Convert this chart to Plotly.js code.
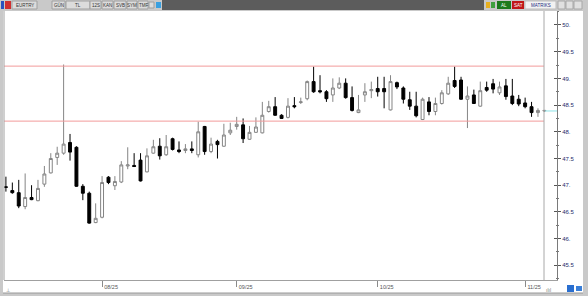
<!DOCTYPE html>
<html><head><meta charset="utf-8">
<script src="https://cdn.plot.ly/plotly-3.0.1.min.js"></script>
<style>html,body{margin:0;padding:0;background:#fff;}#chart{width:588px;height:296px;}</style>
</head><body><div id="chart"></div>
<script>
// ---- data (EURTRY daily) ----
const startDate = '2025-07-11';
const open  = [46.97,46.90,46.86,46.60,46.77,46.71,47.02,47.23,47.52,47.60,47.80,47.71,46.98,46.85,46.30,46.40,47.15,46.99,47.06,47.36,47.37,47.47,47.25,47.60,47.73,47.57,47.87,47.66,47.65,47.68,47.57,48.10,47.63,47.82,47.73,47.98,48.10,48.13,47.86,47.99,47.98,48.38,48.47,48.31,48.27,48.49,48.55,48.62,48.94,48.77,48.75,48.69,48.82,48.91,48.64,48.36,48.69,48.77,48.81,48.81,48.41,48.92,48.82,48.60,48.48,48.23,48.56,48.38,48.53,48.71,48.96,48.97,48.61,48.69,48.48,48.83,48.90,48.73,48.86,48.67,48.61,48.54,48.47,48.36,48.39];
const high  = [47.16,47.05,47.10,47.22,47.00,47.10,47.36,47.60,47.72,49.26,47.96,47.73,47.02,46.88,46.66,47.17,47.17,47.17,47.45,47.71,47.60,47.60,47.69,47.85,47.88,47.94,47.89,47.82,47.77,47.82,48.19,48.11,47.89,47.85,48.15,48.17,48.28,48.25,48.11,48.27,48.56,48.58,48.65,48.33,48.63,48.65,48.64,48.96,49.22,49.06,48.78,49.00,49.02,49.00,48.85,48.69,48.91,48.94,49.03,49.03,49.06,48.94,48.85,48.75,48.75,48.64,48.65,48.64,48.78,49.03,49.22,49.03,48.85,48.79,48.94,48.94,48.99,48.94,48.99,48.99,48.69,48.64,48.56,48.44,48.41];
const low   = [46.88,46.84,46.57,46.55,46.72,46.70,46.97,47.22,47.38,47.57,47.46,46.97,46.72,46.28,46.29,46.38,47.02,46.91,47.04,47.30,47.34,47.07,47.24,47.59,47.48,47.55,47.65,47.60,47.60,47.60,47.52,47.57,47.60,47.50,47.72,47.94,48.04,47.79,47.85,47.98,47.97,48.36,48.30,48.24,48.25,48.44,48.52,48.59,48.73,48.72,48.56,48.56,48.80,48.62,48.38,48.35,48.56,48.63,48.66,48.44,48.40,48.80,48.53,48.41,48.27,48.22,48.31,48.31,48.51,48.69,48.82,48.60,48.07,48.52,48.47,48.75,48.72,48.69,48.60,48.50,48.48,48.44,48.28,48.28,48.37];
const close = [46.96,46.86,46.61,46.77,46.73,46.94,47.21,47.50,47.60,47.77,47.62,46.98,46.85,46.29,46.38,47.05,47.05,47.07,47.38,47.38,47.35,47.08,47.55,47.72,47.55,47.72,47.67,47.63,47.68,47.65,48.00,47.63,47.77,47.76,47.94,48.03,48.14,47.87,47.99,48.09,48.31,48.47,48.31,48.25,48.48,48.47,48.56,48.94,48.75,48.75,48.62,48.82,48.91,48.64,48.40,48.41,48.75,48.79,48.75,48.75,48.94,48.84,48.61,48.48,48.30,48.61,48.38,48.53,48.73,48.91,48.85,48.61,48.67,48.53,48.77,48.78,48.80,48.84,48.66,48.53,48.52,48.47,48.36,48.40,48.40];
const levelLines = [49.23, 48.20];
const lastPrice = 48.39;
const monthTickDates = ['2025-08-01','2025-09-01','2025-10-01','2025-11-03'];
const monthTickText  = ['08/25','09/25','10/25','11/25'];
const priceTickVals = [45.5,46,46.5,47,47.5,48,48.5,49,49.5,50];
const priceTickText = ['45.5','46.','46.5','47.','47.5','48.','48.5','49.','49.5','50.'];
const toolbarLeft  = ['EURTRY','GÜN','TL','12S','KAN','SVB','SYM','TMF'];

// trading-day calendar (weekdays)
const dates = [];
{ let d = new Date(startDate + 'T00:00:00Z');
  while (dates.length < open.length) {
    const w = d.getUTCDay();
    if (w !== 0 && w !== 6) dates.push(d.toISOString().slice(0,10));
    d = new Date(d.getTime() + 86400000);
  } }

// pixel -> paper helpers (plot area 4..557 x 11..280)
const PL=4, PR=557, PT=11, PB=280;
const X = p => (p - PL) / (PR - PL);
const Y = p => (PB - p) / (PB - PT);
const YR = [45.225, 50.262];

const shapes = [];
const ann = [];
function rect(x0,y0,x1,y1,fill,line){shapes.push({type:'rect',xref:'paper',yref:'paper',x0:X(x0),x1:X(x1),y0:Y(y1),y1:Y(y0),fillcolor:fill,line:{color:line||fill,width:line?1:0},layer:'above'});}
function hline(x0,x1,y,color){shapes.push({type:'line',xref:'paper',yref:'paper',x0:X(x0),x1:X(x1),y0:Y(y),y1:Y(y),line:{color:color,width:1},layer:'above'});}
function vline(x,y0,y1,color){shapes.push({type:'line',xref:'paper',yref:'paper',x0:X(x),x1:X(x),y0:Y(y0),y1:Y(y1),line:{color:color,width:1},layer:'above'});}
function txt(x,y,t,color,size,anchor){ann.push({xref:'paper',yref:'paper',x:X(x),y:Y(y),text:t,showarrow:false,font:{family:'Liberation Sans, Arial',size:size||5,color:color||'#333'},xanchor:anchor||'center',yanchor:'middle'});}

// level lines (data y)
levelLines.forEach(v => shapes.push({type:'line',xref:'paper',yref:'y',x0:0,x1:X(544),y0:v,y1:v,line:{color:'#f29a9a',width:1}}));
shapes.push({type:'line',xref:'paper',yref:'y',x0:X(545),x1:X(557),y0:lastPrice,y1:lastPrice,line:{color:'#8fe3e8',width:1}});
vline(544, PT, PB, '#a8a8a8');

// frame / toolbar decoration
rect(0,0,588,11,'#c9c9c9');
rect(162,0,484,10,'#5c5c5c');
rect(0,11,3,296,'#c9c9c9');
rect(583,0,588,296,'#c9c9c9');
rect(0,293,588,296,'#c9c9c9');
hline(3,583,293,'#9a9a9a');
rect(1,1,4,9,'#2a52be');
rect(5,1,11,9,'#d03030');
const boxes = [[12,37],[52,65],[66,90],[90,101],[102,113],[114,126],[127,137],[138,148]];
boxes.forEach((b,i)=>{rect(b[0],1,b[1],9,'#dcdcdc','#a0a0a0'); txt((b[0]+b[1])/2,5.2,toolbarLeft[i],'#333',4.5);});
rect(149,2,154,8,'#dcdcdc','#a0a0a0');
rect(156,2,161,8,'#3aa0e0');
rect(486,2,490,8,'#e8b020');
rect(491,2,495,8,'#40a040');
rect(497,1,511,9,'#1d7a1d'); txt(504,5.2,'AL','#fff',4.5);
rect(512,1,524,9,'#c01818'); txt(518,5.2,'SAT','#fff',4.5);
rect(525,1,556,9,'#f2f2f2','#bdbdbd'); txt(540.5,5.2,'MATRIKS','#1a2a80',4.5);
rect(558,1,565,9,'#e0e0e0','#a8a8a8');
rect(566,1,573,9,'#e0e0e0','#a8a8a8');
rect(574,1,582,9,'#e0e0e0','#a8a8a8');
txt(8,290,'⊥','#777',5);
txt(548,290,'ılıl','#777',5);
rect(567,285,574,292,'#2a6fd0');
rect(576,286,582,291,'#3a7fd8');
// left border of plot
shapes.push({type:'line',xref:'paper',yref:'paper',x0:0,x1:0,y0:0,y1:1,line:{color:'#a0a0a0',width:1},layer:'above'});

const trace = {
  type:'candlestick', x:dates, open:open, high:high, low:low, close:close,
  increasing:{line:{color:'#858585',width:1},fillcolor:'#ffffff'},
  decreasing:{line:{color:'#000000',width:1},fillcolor:'#000000'},
  whiskerwidth:0, hoverinfo:'skip'
};
// invisible helper trace so the overlay axis (inward tick halves) is drawn
const helper = {type:'scatter', x:[dates[0]], y:[48], yaxis:'y2', mode:'markers', marker:{opacity:0}, hoverinfo:'skip', showlegend:false};

const layout = {
  width:588, height:296,
  margin:{l:PL,r:588-PR,t:PT,b:296-PB},
  paper_bgcolor:'#ffffff', plot_bgcolor:'#ffffff',
  showlegend:false, boxgap:0.35,
  font:{family:'Liberation Sans, Arial', size:6, color:'#333'},
  xaxis:{type:'category', range:[-0.3,85.97], rangeslider:{visible:false},
    tickmode:'array', tickvals:monthTickDates, ticktext:monthTickText,
    ticks:'outside', ticklen:6, tickcolor:'#8a8a8a', tickwidth:1,
    ticklabelshift:9, ticklabelstandoff:-5,
    tickfont:{size:5.5,color:'#555'},
    showline:true, linecolor:'#a0a0a0', linewidth:1, mirror:false,
    showgrid:false, zeroline:false, fixedrange:true},
  yaxis:{side:'right', range:YR,
    tickmode:'array', tickvals:priceTickVals, ticktext:priceTickText,
    ticks:'outside', ticklen:3, tickcolor:'#555', ticklabeloverflow:'allow',
    minor:{dtick:0.25, tick0:0, ticks:'outside', ticklen:1, tickcolor:'#777', showgrid:false},
    tickfont:{size:6,color:'#1e2a6a'},
    showline:true, linecolor:'#7a7a7a', linewidth:1,
    showgrid:false, zeroline:false, fixedrange:true},
  yaxis2:{overlaying:'y', side:'right', range:YR,
    tickmode:'array', tickvals:priceTickVals, showticklabels:false,
    ticks:'inside', ticklen:3, tickcolor:'#555',
    minor:{dtick:0.25, tick0:0, ticks:'inside', ticklen:1, tickcolor:'#777', showgrid:false},
    showline:false, showgrid:false, zeroline:false, fixedrange:true},
  shapes:shapes, annotations:ann
};

Plotly.newPlot('chart',[trace, helper],layout,{staticPlot:true,displayModeBar:false});
</script></body></html>
